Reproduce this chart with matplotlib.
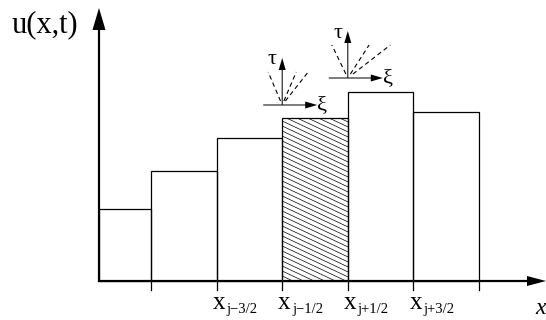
import numpy as np
import matplotlib
matplotlib.use('Agg')
import matplotlib.pyplot as plt
from matplotlib.patches import Rectangle

plt.rcParams['font.family'] = ['Liberation Serif', 'DejaVu Serif']

# cell averages u_j on a uniform grid (cell edges in units of dx)
edges = [0, 1, 2, 3, 4, 5]
left_cell_start = -0.79          # first cell is cut by the u axis
heights = [0.72, 1.10, 1.43, 1.63, 1.89, 1.69]
hatched_cell = 3
edge_labels = {1: 'j\u22123/2', 2: 'j\u22121/2', 3: 'j+1/2', 4: 'j+3/2'}

# local Riemann problem sketches at the interfaces x_{j-1/2}, x_{j+1/2}
fan_edges = [2, 3]
fan_heights = [1.76, 2.03]
fan_slopes = [[-14 / 33, 14 / 33, 26 / 33],      # dx/dt in pixels
              [-15 / 31, 20 / 31, 40 / 31]]

PX = 1 / 65.6   # x units per pixel
PU = 0.01       # u units per pixel

fig = plt.figure(figsize=(5.46, 3.2), dpi=100)
ax = fig.add_axes([0, 0, 1, 1])
ax.set_xlim(-151 * PX, 395 * PX)
ax.set_ylim(-39 * PU, 281 * PU)
ax.axis('off')

lefts = [left_cell_start] + edges[:-1]
widths = [edges[0] - left_cell_start] + list(np.diff(edges))
bars = ax.bar(lefts, heights, widths, align='edge', fill=False,
              edgecolor='black', linewidth=0.9, zorder=2)

# hatching of cell j, drawn by hand to get the shallow angle
hb = bars[hatched_cell]
x0, w, h = hb.get_x(), hb.get_width(), hb.get_height()
slope = 0.47 * PU / PX
xs = np.array([x0, x0 + w])
for c in np.arange(0, h + slope * w + 0.05, 0.05):
    ln, = ax.plot(xs, c - slope * (xs - x0), color='black', lw=0.5, zorder=1)
    ln.set_clip_path(Rectangle((x0, 0), w, h, transform=ax.transData))

# ticks under the x axis
for e in edges:
    ax.plot([e, e], [0, -9 * PU], color='black', lw=0.9)

# x axis: line + filled head reaching the right border
x_end = ax.get_xlim()[1]
ax.plot([-53 * PX, x_end - 18 * PX], [0, 0], color='black', lw=1.6,
        solid_capstyle='butt')
ax.fill([x_end - 19 * PX, x_end, x_end - 19 * PX], [5 * PU, 0, -5 * PU],
        color='black', lw=0)
# u axis
ax.arrow(-52 * PX, -1 * PU, 0, 274 * PU, width=2.2 * PX, head_width=13 * PX,
         head_length=22 * PU, length_includes_head=True, color='black', lw=0)

ax.text(-139 * PX, 249 * PU, 'u(x,t)', fontsize=22, ha='left', va='baseline')
ax.text(384 * PX, -33 * PU, 'x', fontsize=17, style='italic',
        ha='left', va='baseline')

for k, lab in edge_labels.items():
    ax.text(k - 4 * PX, -28 * PU, 'x', fontsize=18, ha='left', va='baseline')
    ax.text(k + 10 * PX, -32 * PU, lab, fontsize=10.5, ha='left',
            va='baseline')

for e, u0, sl in zip(fan_edges, fan_heights, fan_slopes):
    ax.arrow(e - 19 * PX, u0, 54 * PX, 0, width=1 * PU, head_width=7 * PU,
             head_length=12 * PX, length_includes_head=True, color='black',
             lw=0)
    ax.arrow(e, u0, 0, 47 * PU, width=1 * PX, head_width=7 * PX,
             head_length=12 * PU, length_includes_head=True, color='black',
             lw=0)
    for s in sl:
        t = np.array([4, 33])
        ax.plot(e + s * t * PX, u0 + t * PU, color='black', lw=0.8,
                linestyle=(0, (4, 3)))
    ax.text(e - 10 * PX, u0 + 45 * PU, 'τ', fontsize=16, ha='center',
            va='center')
    ax.text(e + 35 * PX, u0 - 1 * PU, 'ξ', fontsize=16, ha='left',
            va='center')

fig.savefig('out.png', dpi=100)
